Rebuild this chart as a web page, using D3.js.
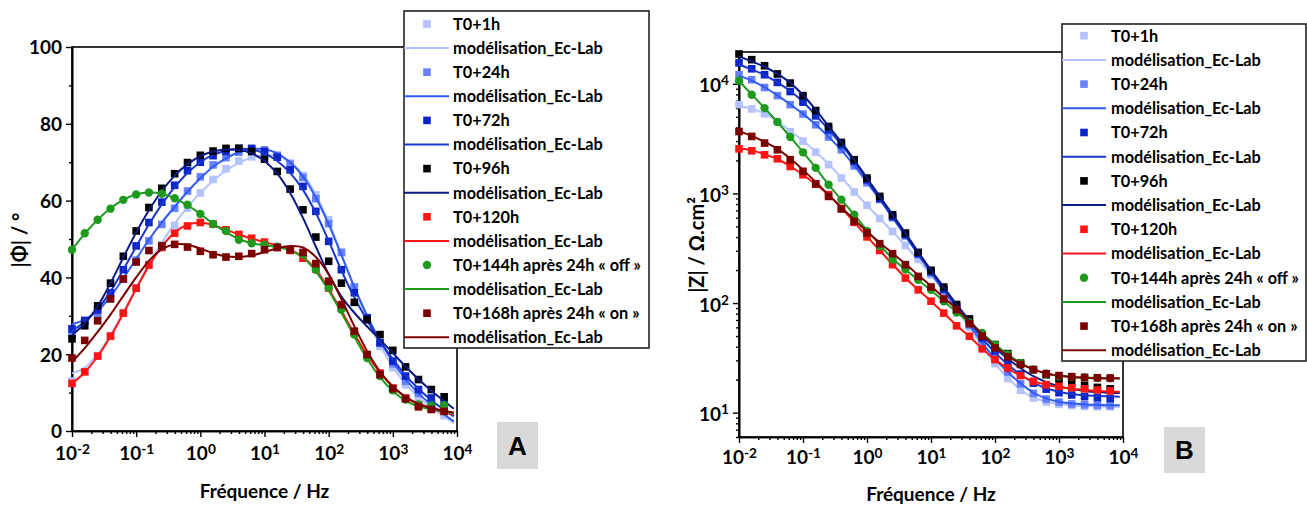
<!DOCTYPE html>
<html><head><meta charset="utf-8">
<script src="https://cdn.jsdelivr.net/npm/d3@7"></script>
<style>
body{margin:0;background:#fff;}
svg{display:block;font-family:Lato,"Open Sans",sans-serif;font-weight:bold;}
</style></head><body><svg id="c" width="1307" height="505"></svg>
<script>
// ---------- DATA ----------
const frequencies = [0.01, 0.0158, 0.0251, 0.0398, 0.0631, 0.1, 0.158, 0.251, 0.398, 0.631, 1, 1.58, 2.51, 3.98, 6.31, 10, 15.8, 25.1, 39.8, 63.1, 100, 158, 251, 398, 631, 1000, 1580, 2510, 3980, 6310];
const fitFrequencies = [0.01, 0.0158, 0.0251, 0.0398, 0.0631, 0.1, 0.158, 0.251, 0.398, 0.631, 1, 1.58, 2.51, 3.98, 6.31, 10, 15.8, 25.1, 39.8, 63.1, 100, 158, 251, 398, 631, 1000, 1580, 2510, 3980, 6310, 8910];

const seriesNames = ["T0+1h", "T0+24h", "T0+72h", "T0+96h", "T0+120h", "T0+144h après 24h « off »", "T0+168h après 24h « on »"];
const fitName = "modélisation_Ec-Lab";
const markerColors = ["#b3c3ff", "#6680ff", "#0a24c8", "#000000", "#ff1414", "#1e9b1e", "#7b0000"];
const lineColors   = ["#b3c3ff", "#2f5cf5", "#1a36cc", "#0b1a80", "#ff1414", "#1e9b1e", "#7b0000"];
const markerShapes = ["square", "square", "square", "square", "square", "circle", "square"];

// Panel A : |Phi| (deg)
const phase1h   = [13.0, 15.5, 19.6, 24.8, 30.8, 37.3, 43.5, 48.5, 53.5, 58.0, 62.0, 65.5, 68.3, 70.3, 71.4, 72.0, 71.5, 69.8, 66.5, 61.5, 55.0, 46.5, 37.5, 29.0, 22.0, 16.5, 12.0, 8.5, 6.0, 4.0];
const phase24h  = [25.0, 28.5, 30.5, 34.5, 39.5, 44.5, 49.5, 53.8, 58.0, 62.5, 66.2, 69.3, 71.2, 72.6, 73.4, 73.2, 71.8, 69.5, 66.0, 60.5, 54.0, 46.5, 37.5, 29.5, 22.8, 17.5, 13.0, 9.8, 7.5, 5.5];
const phase72h  = [26.6, 28.8, 31.5, 36.0, 42.0, 48.2, 54.3, 59.6, 64.0, 67.8, 70.0, 71.7, 72.8, 73.6, 73.6, 72.8, 71.3, 68.0, 63.7, 57.2, 49.4, 42.0, 36.0, 29.5, 23.0, 18.2, 14.3, 10.8, 8.6, 7.3];
const phase96h  = [24.0, 27.4, 32.6, 38.5, 45.5, 52.1, 58.2, 63.2, 67.0, 69.9, 71.8, 72.9, 73.6, 73.6, 72.8, 70.8, 67.6, 63.0, 57.6, 50.5, 44.2, 38.5, 33.5, 29.0, 25.1, 21.0, 16.7, 13.4, 10.8, 8.9];
const phase120h = [12.4, 15.4, 19.5, 24.7, 30.7, 37.2, 43.2, 47.8, 51.5, 53.4, 54.3, 53.9, 52.4, 51.2, 50.2, 49.2, 47.8, 47.0, 45.0, 42.2, 37.2, 32.0, 25.5, 19.9, 15.1, 11.2, 8.6, 6.8, 6.0, 5.4];
const phase144h = [47.2, 51.5, 55.0, 57.9, 60.2, 61.6, 62.1, 61.8, 60.6, 58.9, 56.5, 53.9, 52.1, 49.8, 48.9, 48.5, 48.0, 47.3, 46.0, 42.0, 37.2, 31.6, 25.1, 19.0, 14.3, 10.6, 8.2, 6.9, 6.6, 6.7];
const phase168h = [19.0, 23.6, 28.7, 34.4, 39.6, 44.0, 47.0, 48.2, 48.6, 47.9, 46.8, 45.9, 45.3, 45.5, 46.2, 47.2, 47.8, 47.2, 46.5, 43.6, 39.0, 32.9, 26.0, 19.9, 14.7, 11.0, 8.4, 6.3, 5.6, 5.1];

const phaseFit1h   = [15.0, 16.5, 20.0, 25.0, 31.0, 37.3, 43.5, 49.0, 54.0, 58.3, 62.0, 65.2, 67.8, 69.8, 71.2, 71.9, 71.6, 70.0, 66.8, 61.6, 54.5, 46.0, 37.3, 29.2, 22.3, 16.7, 12.3, 8.8, 6.0, 3.8, 2.0];
const phaseFit24h  = [27.8, 29.0, 31.3, 35.0, 39.8, 44.8, 49.8, 54.3, 58.4, 62.3, 65.8, 68.8, 71.0, 72.6, 73.4, 73.4, 72.3, 70.0, 66.3, 60.8, 53.8, 45.8, 37.5, 30.0, 23.5, 18.0, 13.5, 9.8, 6.8, 4.3, 2.5];
const phaseFit72h  = [26.0, 28.5, 31.8, 36.3, 42.0, 48.0, 53.8, 59.0, 63.5, 67.2, 70.0, 71.9, 73.0, 73.5, 73.3, 72.3, 70.3, 67.2, 62.8, 56.8, 49.5, 41.8, 34.8, 28.8, 23.5, 18.7, 14.5, 11.0, 8.0, 5.5, 3.8];
const phaseFit96h  = [25.0, 28.0, 32.5, 38.5, 45.2, 51.7, 57.5, 62.5, 66.5, 69.5, 71.6, 72.8, 73.3, 73.2, 72.3, 70.3, 67.0, 62.0, 55.5, 48.0, 40.8, 35.0, 30.8, 27.2, 23.8, 20.3, 16.8, 13.5, 10.5, 7.8, 5.8];
const phaseFit120h = [12.3, 15.3, 19.4, 24.6, 30.6, 37.0, 43.0, 48.0, 51.7, 53.7, 54.2, 53.6, 52.4, 51.2, 50.1, 49.2, 48.3, 47.2, 45.3, 42.0, 37.0, 31.3, 25.3, 19.8, 15.2, 11.5, 8.8, 6.9, 5.7, 4.9, 4.3];
const phaseFit144h = [47.2, 51.4, 55.0, 58.0, 60.2, 61.6, 62.1, 61.8, 60.6, 58.8, 56.5, 54.0, 51.8, 50.0, 48.9, 48.4, 47.9, 47.0, 45.2, 41.6, 36.6, 30.8, 24.6, 18.8, 14.0, 10.4, 7.9, 6.4, 5.6, 5.1, 4.6];
const phaseFit168h = [18.0, 21.6, 25.8, 30.3, 35.2, 40.0, 44.3, 47.3, 48.6, 48.5, 47.5, 46.3, 45.5, 45.3, 45.7, 46.6, 47.6, 48.2, 47.8, 45.3, 40.8, 34.3, 27.3, 20.8, 15.5, 11.6, 8.9, 7.1, 6.0, 5.3, 4.8];

// Panel B : |Z| (Ohm.cm2)
const z1h   = [6450, 5900, 5330, 4500, 3650, 3000, 2380, 1830, 1380, 1030, 780, 590, 450, 335, 250, 180, 128, 88, 60, 40, 28, 20.5, 16, 13.6, 12.5, 11.9, 11.6, 11.4, 11.3, 11.3];
const z24h  = [12100, 10900, 9250, 7800, 6450, 5300, 4230, 3270, 2500, 1780, 1250, 880, 600, 410, 276, 188, 130, 90, 63, 43, 31, 23.5, 18.3, 15.0, 13.3, 12.5, 12.0, 11.8, 11.7, 11.6];
const z72h  = [15500, 13700, 12100, 10300, 8500, 6800, 5100, 3800, 2780, 1960, 1330, 900, 615, 420, 282, 193, 134, 94, 68, 48, 36.5, 28.0, 22.5, 18.6, 16.4, 15.2, 14.5, 14.0, 13.7, 13.5];
const z96h  = [18700, 16600, 14600, 12300, 10150, 7800, 5700, 4080, 2920, 2030, 1380, 940, 640, 435, 290, 199, 140, 97, 71.6, 50.4, 41.8, 34.6, 28.4, 24.7, 22.2, 20.2, 18.8, 17.8, 17.0, 16.5];
const z120h = [2550, 2450, 2250, 2070, 1760, 1480, 1215, 973, 730, 545, 401, 302, 224, 169, 132, 104, 81, 62, 49.8, 38.2, 30.5, 25.6, 21.8, 19.3, 18.0, 17.4, 16.9, 16.5, 16.1, 15.8];
const z144h = [10650, 7940, 6000, 4480, 3270, 2370, 1710, 1200, 877, 640, 455, 329, 249, 202, 163, 132, 104, 82, 66.7, 53.3, 41.8, 33.9, 28.4, 24.7, 22.7, 21.5, 21.2, 21.0, 20.7, 20.6];
const z168h = [3670, 3310, 2880, 2500, 2030, 1590, 1225, 939, 721, 556, 436, 348, 282, 224, 175, 140, 109, 87, 64.9, 49.8, 39.0, 32.3, 27.5, 24.7, 22.7, 21.8, 21.3, 21.0, 20.8, 20.7];

const zFit1h   = [6300, 5900, 5350, 4550, 3720, 3020, 2400, 1850, 1400, 1040, 780, 590, 448, 335, 248, 180, 128, 88, 60, 40.5, 28, 20.8, 16.2, 13.7, 12.6, 12.0, 11.7, 11.5, 11.4, 11.3, 11.3];
const zFit24h  = [11800, 10700, 9300, 7850, 6500, 5320, 4250, 3280, 2480, 1790, 1260, 880, 600, 410, 278, 188, 130, 90, 63, 43.5, 31, 23.5, 18.5, 15.2, 13.5, 12.6, 12.1, 11.9, 11.8, 11.7, 11.7];
const zFit72h  = [15000, 13500, 12000, 10300, 8600, 6850, 5150, 3820, 2780, 1960, 1330, 900, 615, 420, 282, 193, 134, 94, 67, 47.5, 35.5, 27.5, 22.3, 18.8, 16.7, 15.5, 14.8, 14.4, 14.2, 14.1, 14.0];
const zFit96h  = [17800, 16000, 14300, 12300, 10200, 7900, 5800, 4100, 2920, 2030, 1380, 940, 640, 435, 292, 200, 140, 97, 70, 51, 39, 31, 25.5, 21.5, 19.0, 17.4, 16.4, 15.8, 15.4, 15.2, 15.1];
const zFit120h = [2600, 2470, 2270, 2060, 1770, 1480, 1210, 970, 735, 548, 403, 302, 225, 170, 132, 104, 81, 62.5, 49.5, 38.5, 30.5, 25.3, 21.8, 19.4, 18.0, 17.1, 16.5, 16.1, 15.8, 15.6, 15.5];
const zFit144h = [10600, 8000, 6000, 4480, 3280, 2380, 1710, 1200, 877, 640, 462, 340, 255, 202, 162, 131, 104, 83, 66.5, 53, 42, 34, 28.3, 24.8, 22.8, 21.7, 21.1, 20.8, 20.6, 20.5, 20.5];
const zFit168h = [3700, 3350, 2950, 2550, 2080, 1640, 1270, 970, 745, 575, 450, 355, 285, 228, 180, 143, 112, 89, 68, 52, 40.5, 33, 28, 24.8, 22.8, 21.8, 21.2, 20.9, 20.7, 20.6, 20.6];

const yTicksA = [0, 20, 40, 60, 80, 100];
const yMinorA = [10, 30, 50, 70, 90];
const decadeTicks = [0.01, 0.1, 1, 10, 100, 1000, 10000];
const zDecadeTicks = [10, 100, 1000, 10000];

const phasePoints = [phase1h, phase24h, phase72h, phase96h, phase120h, phase144h, phase168h];
const phaseFits = [phaseFit1h, phaseFit24h, phaseFit72h, phaseFit96h, phaseFit120h, phaseFit144h, phaseFit168h];
const zPoints = [z1h, z24h, z72h, z96h, z120h, z144h, z168h];
const zFits = [zFit1h, zFit24h, zFit72h, zFit96h, zFit120h, zFit144h, zFit168h];

// ---------- DRAW ----------
const svg = d3.select("#c");
const FS = 19;

function supLabels(sel, anchorDy) {
  sel.selectAll(".tick text").each(function(d) {
    const t = d3.select(this);
    t.text("");
    t.attr("dy", anchorDy);
    t.append("tspan").text("10");
    t.append("tspan").attr("dy", "-0.5em").attr("font-size", "0.72em").text(Math.round(Math.log10(d)));
  });
}
function styleAxis(g) {
  g.selectAll("path.domain").attr("stroke", "#000").attr("stroke-width", 1.6);
  g.selectAll(".tick line").attr("stroke", "#000").attr("stroke-width", 1.4);
  g.selectAll(".tick text").attr("fill", "#000").attr("font-size", FS).attr("font-weight", "bold").attr("font-family", "Lato");
}

function panel(cfg) {
  const g = svg.append("g");
  const {x, y} = cfg;
  const [x0, x1] = x.range();
  const [yb, yt] = y.range();
  g.append("rect").attr("x", x0).attr("y", yt).attr("width", x1 - x0).attr("height", yb - yt)
    .attr("fill", "none").attr("stroke", "#000").attr("stroke-width", 1.6);
  const xMinor = x.ticks().filter(v => !decadeTicks.some(d => Math.abs(v / d - 1) < 1e-6));
  g.append("g").attr("transform", `translate(0,${yb})`)
    .call(d3.axisBottom(x).tickValues(xMinor).tickSize(3).tickFormat("").tickSizeOuter(0)).call(styleAxis);
  const xa = g.append("g").attr("transform", `translate(0,${yb})`)
    .call(d3.axisBottom(x).tickValues(decadeTicks).tickSize(6).tickPadding(cfg.xPad).tickSizeOuter(0));
  styleAxis(xa);
  supLabels(xa, "0.71em");
  if (cfg.log) {
    const yMinor = y.ticks().filter(v => !zDecadeTicks.some(d => Math.abs(v / d - 1) < 1e-6));
    g.append("g").attr("transform", `translate(${x0},0)`)
      .call(d3.axisLeft(y).tickValues(yMinor).tickSize(3).tickFormat("").tickSizeOuter(0)).call(styleAxis);
    const ya = g.append("g").attr("transform", `translate(${x0},0)`)
      .call(d3.axisLeft(y).tickValues(zDecadeTicks).tickSize(6).tickPadding(4).tickSizeOuter(0));
    styleAxis(ya);
    supLabels(ya, "0.42em");
  } else {
    g.append("g").attr("transform", `translate(${x0},0)`)
      .call(d3.axisLeft(y).tickValues(yMinorA).tickSize(3).tickFormat("").tickSizeOuter(0)).call(styleAxis);
    const ya = g.append("g").attr("transform", `translate(${x0},0)`)
      .call(d3.axisLeft(y).tickValues(yTicksA).tickSize(6).tickPadding(4).tickSizeOuter(0));
    styleAxis(ya);
    ya.selectAll(".tick text").attr("dy", "0.36em");
  }
  const line = d3.line().x((d, i) => x(fitFrequencies[i])).y(d => y(d)).curve(d3.curveCatmullRom.alpha(0.5));
  for (let s = 0; s < 7; s++) {
    const pts = cfg.points[s];
    const col = markerColors[s];
    const mg = g.append("g");
    if (markerShapes[s] === "circle") {
      mg.selectAll("circle").data(pts).join("circle")
        .attr("cx", (d, i) => x(frequencies[i])).attr("cy", d => y(d)).attr("r", 4.2).attr("fill", col);
    } else {
      mg.selectAll("rect").data(pts).join("rect")
        .attr("x", (d, i) => x(frequencies[i]) - 3.8).attr("y", d => y(d) - 3.8)
        .attr("width", 7.6).attr("height", 7.6).attr("fill", col);
    }
    g.append("path").datum(cfg.fits[s]).attr("d", line).attr("fill", "none")
      .attr("stroke", lineColors[s]).attr("stroke-width", 2);
  }
  g.append("text").attr("x", (x0 + x1) / 2).attr("y", cfg.xTitleY).attr("text-anchor", "middle")
    .attr("font-size", 19).text("Fréquence / Hz");
  g.append("text").attr("transform", `translate(${cfg.yTitleX},${cfg.yTitleY}) rotate(-90)`)
    .attr("text-anchor", "middle").attr("font-size", 20).text(cfg.yTitle);
  const L = cfg.legend;
  const lg = g.append("g");
  lg.append("rect").attr("x", L.x).attr("y", L.y).attr("width", L.w).attr("height", L.h)
    .attr("fill", "#fff").attr("stroke", "#222").attr("stroke-width", 1.6);
  for (let s = 0; s < 7; s++) {
    const ry = L.row0 + 2 * s * L.dy;
    const ry2 = ry + L.dy;
    if (markerShapes[s] === "circle") {
      lg.append("circle").attr("cx", L.sx).attr("cy", ry).attr("r", 4.2).attr("fill", markerColors[s]);
    } else {
      lg.append("rect").attr("x", L.sx - 3.8).attr("y", ry - 3.8).attr("width", 7.6).attr("height", 7.6).attr("fill", markerColors[s]);
    }
    lg.append("text").attr("x", L.tx).attr("y", ry + 5.8).attr("font-size", L.fs).text(seriesNames[s]);
    lg.append("line").attr("x1", L.x).attr("x2", L.lx2).attr("y1", ry2).attr("y2", ry2)
      .attr("stroke", lineColors[s]).attr("stroke-width", 2);
    lg.append("text").attr("x", L.tx).attr("y", ry2 + 5.8).attr("font-size", L.fs).text(fitName);
  }
  const P = cfg.letter;
  g.append("rect").attr("x", P.x).attr("y", P.y).attr("width", P.w).attr("height", P.h).attr("fill", "#d9d9d9");
  g.append("text").attr("x", P.x + P.w / 2).attr("y", P.y + P.h / 2 + 9).attr("text-anchor", "middle")
    .attr("font-size", 26).attr("font-family", "Liberation Sans, Arial").text(P.t);
}

panel({
  x: d3.scaleLog().domain([0.01, 10000]).range([72, 457]),
  y: d3.scaleLinear().domain([0, 100]).range([431, 47]),
  log: false, xPad: 10,
  points: phasePoints, fits: phaseFits,
  xTitleY: 498, yTitleX: 27, yTitleY: 240, yTitle: "|Φ| / °",
  legend: {x: 404, y: 11, w: 245, h: 337, row0: 24, dy: 24.1, sx: 427, lx2: 449, tx: 453, fs: 16.3},
  letter: {x: 497, y: 422, w: 41, h: 47, t: "A"}
});
panel({
  x: d3.scaleLog().domain([0.01, 10000]).range([739, 1123]),
  y: d3.scaleLog().domain([6, 19500]).range([437, 52]),
  log: true, xPad: 8,
  points: zPoints, fits: zFits,
  xTitleY: 501, yTitleX: 704, yTitleY: 245, yTitle: "|Z| / Ω.cm²",
  legend: {x: 1062, y: 24, w: 244, h: 337, row0: 35.7, dy: 24.2, sx: 1084, lx2: 1106, tx: 1111, fs: 16.3},
  letter: {x: 1164, y: 427, w: 41, h: 46, t: "B"}
});
</script></body></html>
